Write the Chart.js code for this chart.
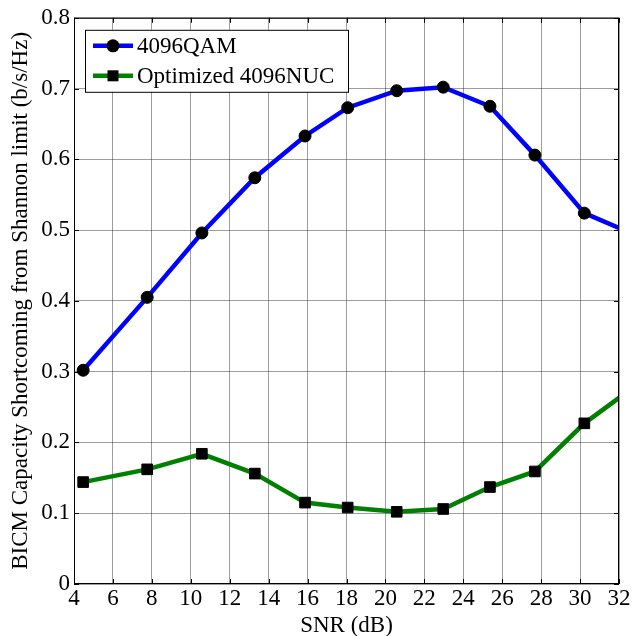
<!DOCTYPE html>
<html>
<head>
<meta charset="utf-8">
<script src="https://cdn.jsdelivr.net/npm/chart.js@4/dist/chart.umd.min.js"></script>
<style>
html, body { margin: 0; padding: 0; background: #fff; }
</style>
</head>
<body>
<canvas id="capacity" width="633" height="636"></canvas>
<script>
// SNR operating points (dB) and capacity gap to the Shannon limit (b/s/Hz)
let snr = [4.47, 7.76, 10.57, 13.29, 15.87, 18.06, 20.58, 22.97, 25.37, 27.68, 30.22, 32];
let qam = [0.302, 0.405, 0.496, 0.574, 0.633, 0.673, 0.697, 0.702, 0.675, 0.606, 0.524, 0.503];
let nuc = [0.144, 0.162, 0.184, 0.156, 0.115, 0.108, 0.102, 0.106, 0.137, 0.159, 0.227, 0.263];
let names = ["4096QAM", "Optimized 4096NUC"];
let xTicks = [4, 6, 8, 10, 12, 14, 16, 18, 20, 22, 24, 26, 28, 30, 32];
let yTicks = [0, 0.1, 0.2, 0.3, 0.4, 0.5, 0.6, 0.7, 0.8];

let serif = "'Liberation Serif', 'Times New Roman', serif";
Chart.defaults.font.family = serif;
Chart.defaults.font.size = 23;
Chart.defaults.color = "#000";

// last sample sits on the axis edge, no marker there
let radii = (n, r) => snr.map((v, i) => i == n - 1 ? 0 : r);

let lineData = {
    datasets: [
        {
            label: names[0],
            data: snr.map((v, i) => ({ x: v, y: qam[i] })),
            borderColor: "#0000ff",
            borderWidth: 4.5,
            pointStyle: "circle",
            pointRadius: radii(snr.length, 6),
            pointBackgroundColor: "#000",
            pointBorderColor: "#000",
            pointBorderWidth: 1,
        },
        {
            label: names[1],
            data: snr.map((v, i) => ({ x: v, y: nuc[i] })),
            borderColor: "#008000",
            borderWidth: 4.5,
            pointStyle: "rect",
            pointRadius: radii(snr.length, 7.5),
            pointBackgroundColor: "#000",
            pointBorderColor: "#000",
            pointBorderWidth: 1,
        },
    ],
};

// box, inward ticks and legend drawn over the plot area
let frame = {
    id: "frame",
    afterDatasetsDraw(chart) {
        let { ctx, chartArea: a, scales } = chart;
        ctx.save();
        ctx.strokeStyle = "#000";
        ctx.lineWidth = 1;
        ctx.strokeRect(a.left + 0.5, a.top + 0.5, a.right - a.left - 1, a.bottom - a.top - 1);

        ctx.beginPath();
        xTicks.forEach(v => {
            let px = Math.round(scales.x.getPixelForValue(v)) + 0.5;
            ctx.moveTo(px, a.bottom); ctx.lineTo(px, a.bottom - 5);
            ctx.moveTo(px, a.top); ctx.lineTo(px, a.top + 5);
        });
        yTicks.forEach(v => {
            let py = Math.round(scales.y.getPixelForValue(v)) + 0.5;
            ctx.moveTo(a.left, py); ctx.lineTo(a.left + 5, py);
            ctx.moveTo(a.right, py); ctx.lineTo(a.right - 5, py);
        });
        ctx.stroke();

        // legend
        let bx = a.left + 11, by = a.top + 12, bw = 263, bh = 62;
        ctx.fillStyle = "#fff";
        ctx.fillRect(bx, by, bw, bh);
        ctx.strokeRect(bx + 0.5, by + 0.5, bw, bh);
        ctx.font = "23px " + serif;
        ctx.textBaseline = "middle";
        chart.data.datasets.forEach((ds, i) => {
            let cy = by + 16 + i * 30;
            ctx.strokeStyle = ds.borderColor;
            ctx.lineWidth = 4.5;
            ctx.beginPath();
            ctx.moveTo(bx + 8, cy);
            ctx.lineTo(bx + 48, cy);
            ctx.stroke();
            ctx.fillStyle = "#000";
            if (ds.pointStyle == "circle") {
                ctx.beginPath();
                ctx.arc(bx + 28, cy, 6.5, 0, Math.PI * 2);
                ctx.fill();
            } else {
                ctx.fillRect(bx + 22.5, cy - 5.5, 11, 11);
            }
            ctx.fillText(ds.label, bx + 52, cy + 1);
        });
        ctx.restore();
    },
};

let lineOptions = {
    responsive: false,
    animation: false,
    layout: { padding: { top: 17, right: 14, bottom: 0, left: 0 } },
    plugins: {
        legend: { display: false },
        tooltip: { enabled: false },
    },
    scales: {
        x: {
            type: "linear",
            min: 4,
            max: 32,
            afterBuildTicks: s => { s.ticks = xTicks.map(v => ({ value: v })); },
            afterFit: s => { s.height = 52; },
            ticks: { padding: 1, maxRotation: 0, autoSkip: false },
            grid: { color: "rgba(0,0,0,0.38)", drawTicks: false },
            border: { display: false },
            title: {
                display: true,
                text: "SNR (dB)",
                font: { size: 23, lineHeight: 1 },
                padding: { top: 0, bottom: -1 },
            },
        },
        y: {
            min: 0,
            max: 0.8,
            afterBuildTicks: s => { s.ticks = yTicks.map(v => ({ value: v })); },
            afterFit: s => { s.width = 74; },
            ticks: { padding: 4, callback: v => String(+v.toFixed(1)) },
            grid: { color: "rgba(0,0,0,0.38)", drawTicks: false },
            border: { display: false },
            title: {
                display: true,
                text: "BICM Capacity Shortcoming from Shannon limit (b/s/Hz)",
                font: { size: 23, lineHeight: 1 },
                padding: { top: 9, bottom: 0 },
            },
        },
    },
};

let capacityChart = new Chart(
    document.getElementById("capacity"), {
        type: "line",
        data: lineData,
        options: lineOptions,
        plugins: [frame],
    }
);
</script>
</body>
</html>
